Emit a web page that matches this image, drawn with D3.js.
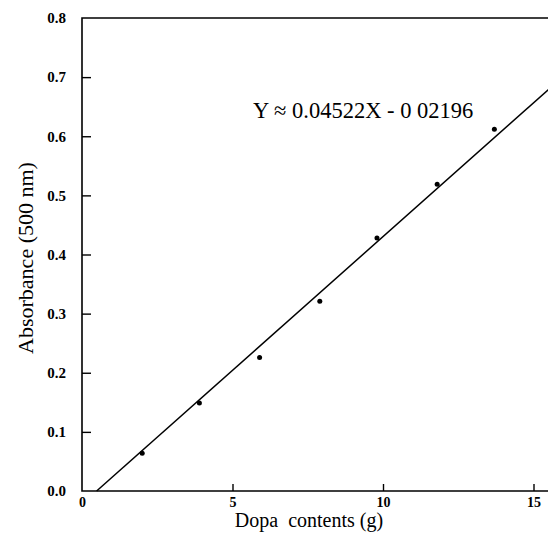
<!DOCTYPE html>
<html>
<head>
<meta charset="utf-8">
<script src="https://cdn.jsdelivr.net/npm/d3@7"></script>
<style>
  body { margin: 0; background: #fff; }
</style>
</head>
<body>
<div id="chart"></div>
<script>
// measured points
const dopa = [2.0, 3.9, 5.9, 7.9, 9.8, 11.8, 13.7];
const absorbance = [0.064, 0.149, 0.226, 0.321, 0.428, 0.519, 0.612];
// fitted line Y = slope * X + intercept
const slope = 0.04522;
const intercept = -0.02196;
const xTicks = [0, 5, 10, 15];
const yTicks = [0.0, 0.1, 0.2, 0.3, 0.4, 0.5, 0.6, 0.7, 0.8];

const width = 548;
const height = 535;
const margin = { top: 18, right: 0, bottom: 44, left: 82 };

const svg = d3.select('#chart')
    .append('svg')
    .attr('width', width)
    .attr('height', height);

const x = d3.scaleLinear()
    .domain([0, 15.5])
    .range([margin.left, margin.left + 15.5 * 30.1]);

const y = d3.scaleLinear()
    .domain([0, 0.8])
    .range([height - margin.bottom, margin.top]);

const serif = '"Liberation Serif", "DejaVu Serif", serif';

// frame (top + left + bottom)
svg.append('path')
    .attr('d', `M${width + 5},${y(0.8)} H${x(0)} V${y(0)} H${width + 5}`)
    .attr('fill', 'none')
    .attr('stroke', '#000')
    .attr('stroke-width', 1.6);

function yAxis(g) {
  g.attr('transform', `translate(${x(0)},0)`)
    .call(d3.axisRight(y).tickValues(yTicks).tickSize(9).tickFormat(d3.format('.1f')))
    .call(g => g.select('.domain').remove())
    .call(g => g.selectAll('line').attr('stroke-width', 1.4))
    .call(g => g.selectAll('text')
        .attr('x', -16)
        .attr('text-anchor', 'end')
        .attr('font-weight', 'bold')
        .style('font-size', '15px'))
    .attr('font-family', serif);
  g.selectAll('.tick').filter(d => d === 0 || d === 0.8).select('line').remove();
}

function xAxis(g) {
  g.attr('transform', `translate(0,${y(0)})`)
    .call(d3.axisTop(x).tickValues(xTicks).tickSize(7).tickFormat(d3.format('d')))
    .call(g => g.select('.domain').remove())
    .call(g => g.selectAll('line').attr('stroke-width', 1.4))
    .call(g => g.selectAll('text')
        .attr('y', 16)
        .attr('dy', 0)
        .attr('font-weight', 'bold')
        .style('font-size', '14px'))
    .attr('font-family', serif);
  g.selectAll('.tick').filter(d => d === 0).select('line').remove();
}

svg.append('g').call(xAxis);
svg.append('g').call(yAxis);

// regression line
const x0 = -intercept / slope;
const x1 = x.domain()[1];
svg.append('line')
    .attr('x1', x(x0))
    .attr('y1', y(0))
    .attr('x2', x(x1))
    .attr('y2', y(slope * x1 + intercept))
    .attr('stroke', '#000')
    .attr('stroke-width', 1.5);

// data points
svg.append('g')
    .selectAll('circle')
    .data(dopa)
    .join('circle')
        .attr('cx', d => x(d))
        .attr('cy', (d, i) => y(absorbance[i]))
        .attr('r', 2.5)
        .attr('fill', '#000');

// equation
svg.append('text')
    .attr('x', 253)
    .attr('y', 118)
    .attr('font-family', serif)
    .attr('font-size', '22.5px')
    .text('Y ≈ 0.04522X - 0 02196');

// axis titles
svg.append('text')
    .attr('x', 309)
    .attr('y', 527)
    .attr('text-anchor', 'middle')
    .attr('font-family', serif)
    .attr('font-size', '20px')
    .style('white-space', 'pre')
    .text('Dopa  contents (g)');

svg.append('text')
    .attr('transform', 'translate(33,258) rotate(-90)')
    .attr('text-anchor', 'middle')
    .attr('font-family', serif)
    .attr('font-size', '22px')
    .text('Absorbance (500 nm)');
</script>
</body>
</html>
